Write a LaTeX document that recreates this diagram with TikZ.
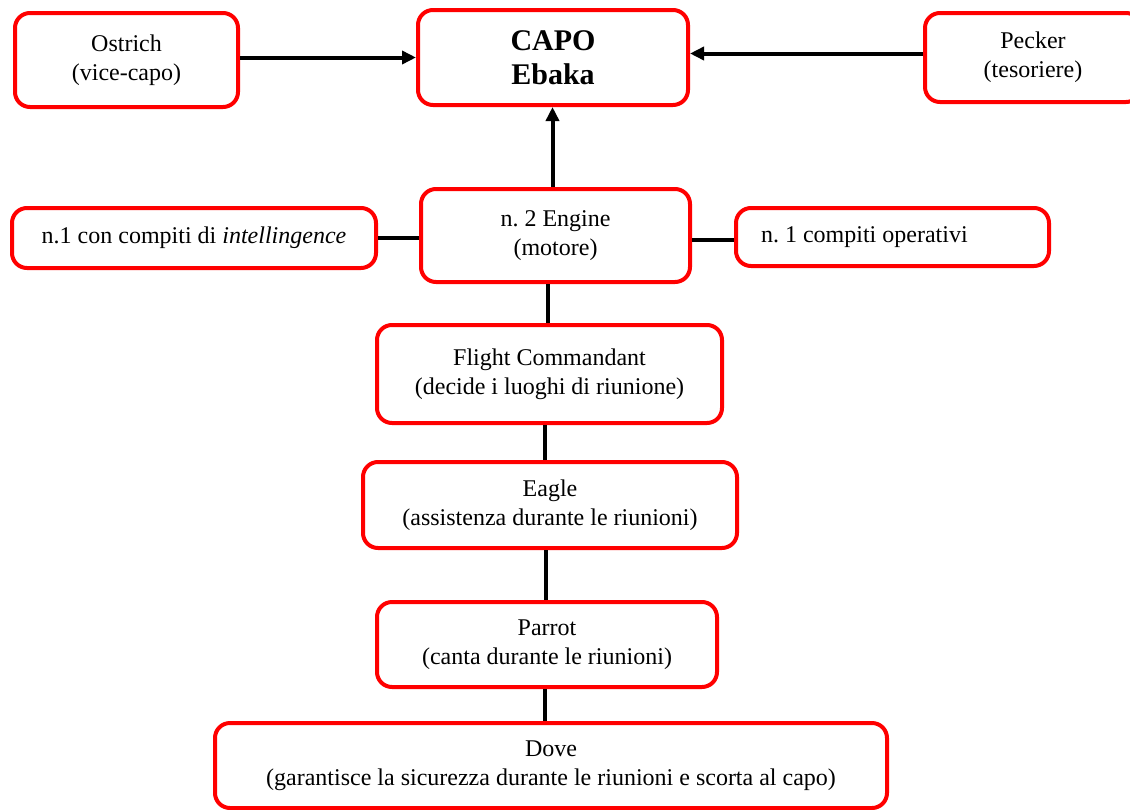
\documentclass[tikz,border=0pt]{standalone}
\usepackage{fontspec}
\setmainfont{Liberation Serif}
\usepackage{tikz}
\usetikzlibrary{arrows.meta, positioning}

\begin{document}
\begin{tikzpicture}[
            x=1pt, y=-1pt,
            box/.style={draw=red, line width=4pt, rounded corners=15pt, fill=white,
                        align=center, inner sep=0pt,
                        font=\fontsize{24}{29}\selectfont\frenchspacing},
            link/.style={draw=black, line width=4pt},
            arrow/.style={link, -{Triangle[length=14pt, width=13pt]}}
        ]

        \useasboundingbox (0,0) rectangle (1130,809);
        \clip (0,0) rectangle (1130,809);

        % Nodes (manual layout to match figure)
        \node[box, minimum width=223pt, minimum height=94pt] (ostrich) at (126.5, 60) {Ostrich\\(vice-capo)};
        \node[box, minimum width=270pt, minimum height=95pt, font=\fontsize{30}{34}\selectfont\bfseries] (capo) at (553, 57.5) {CAPO\\Ebaka};
        \node[box, minimum width=216pt, minimum height=89pt] (pecker) at (1033, 57.5) {Pecker\\(tesoriere)};

        \node[box, minimum width=269pt, minimum height=93pt] (engine) at (555.5, 235.5) {n. 2 Engine\\(motore)};
        \node[box, minimum width=364pt, minimum height=60pt] (intel) at (194, 238) {n.1 con compiti di \textit{intellingence}};
        \node[box, minimum width=313pt, minimum height=58pt] (oper) at (892.5, 237) {\makebox[263pt][l]{n. 1 compiti operativi}};

        \node[box, minimum width=345pt, minimum height=98pt] (flight) at (549.5, 374) {Flight Commandant\\(decide i luoghi di riunione)};
        \node[box, minimum width=374pt, minimum height=86pt] (eagle) at (550, 505) {Eagle\\(assistenza durante le riunioni)};
        \node[box, minimum width=340pt, minimum height=85pt] (parrot) at (547, 644.5) {Parrot\\(canta durante le riunioni)};
        \node[box, minimum width=672pt, minimum height=85pt] (dove) at (551, 765.5) {Dove\\(garantisce la sicurezza durante le riunioni e scorta al capo)};

        % Edges
        \draw[arrow] (ostrich.east |- capo) -- (capo.west);
        \draw[arrow] ([yshift=4pt]pecker.west) -- ([yshift=4pt]pecker.west -| capo.east);
        \draw[arrow] ([xshift=-3pt]engine.north) -- ([xshift=-3pt]engine.north |- capo.south);

        \draw[link] (intel.east) -- (intel.east -| engine.west);
        \draw[link] ([yshift=-3pt]oper.west) -- ([yshift=-3pt]oper.west -| engine.east);

        \draw[link] ([xshift=-1.5pt]flight.north) -- ([xshift=-1.5pt]flight.north |- engine.south);
        \draw[link] ([xshift=-5pt]eagle.north) -- ([xshift=-5pt]eagle.north |- flight.south);
        \draw[link] ([xshift=-1pt]parrot.north) -- ([xshift=-1pt]parrot.north |- eagle.south);
        \draw[link] ([xshift=-6pt]dove.north) -- ([xshift=-6pt]dove.north |- parrot.south);

\end{tikzpicture}
\end{document}
